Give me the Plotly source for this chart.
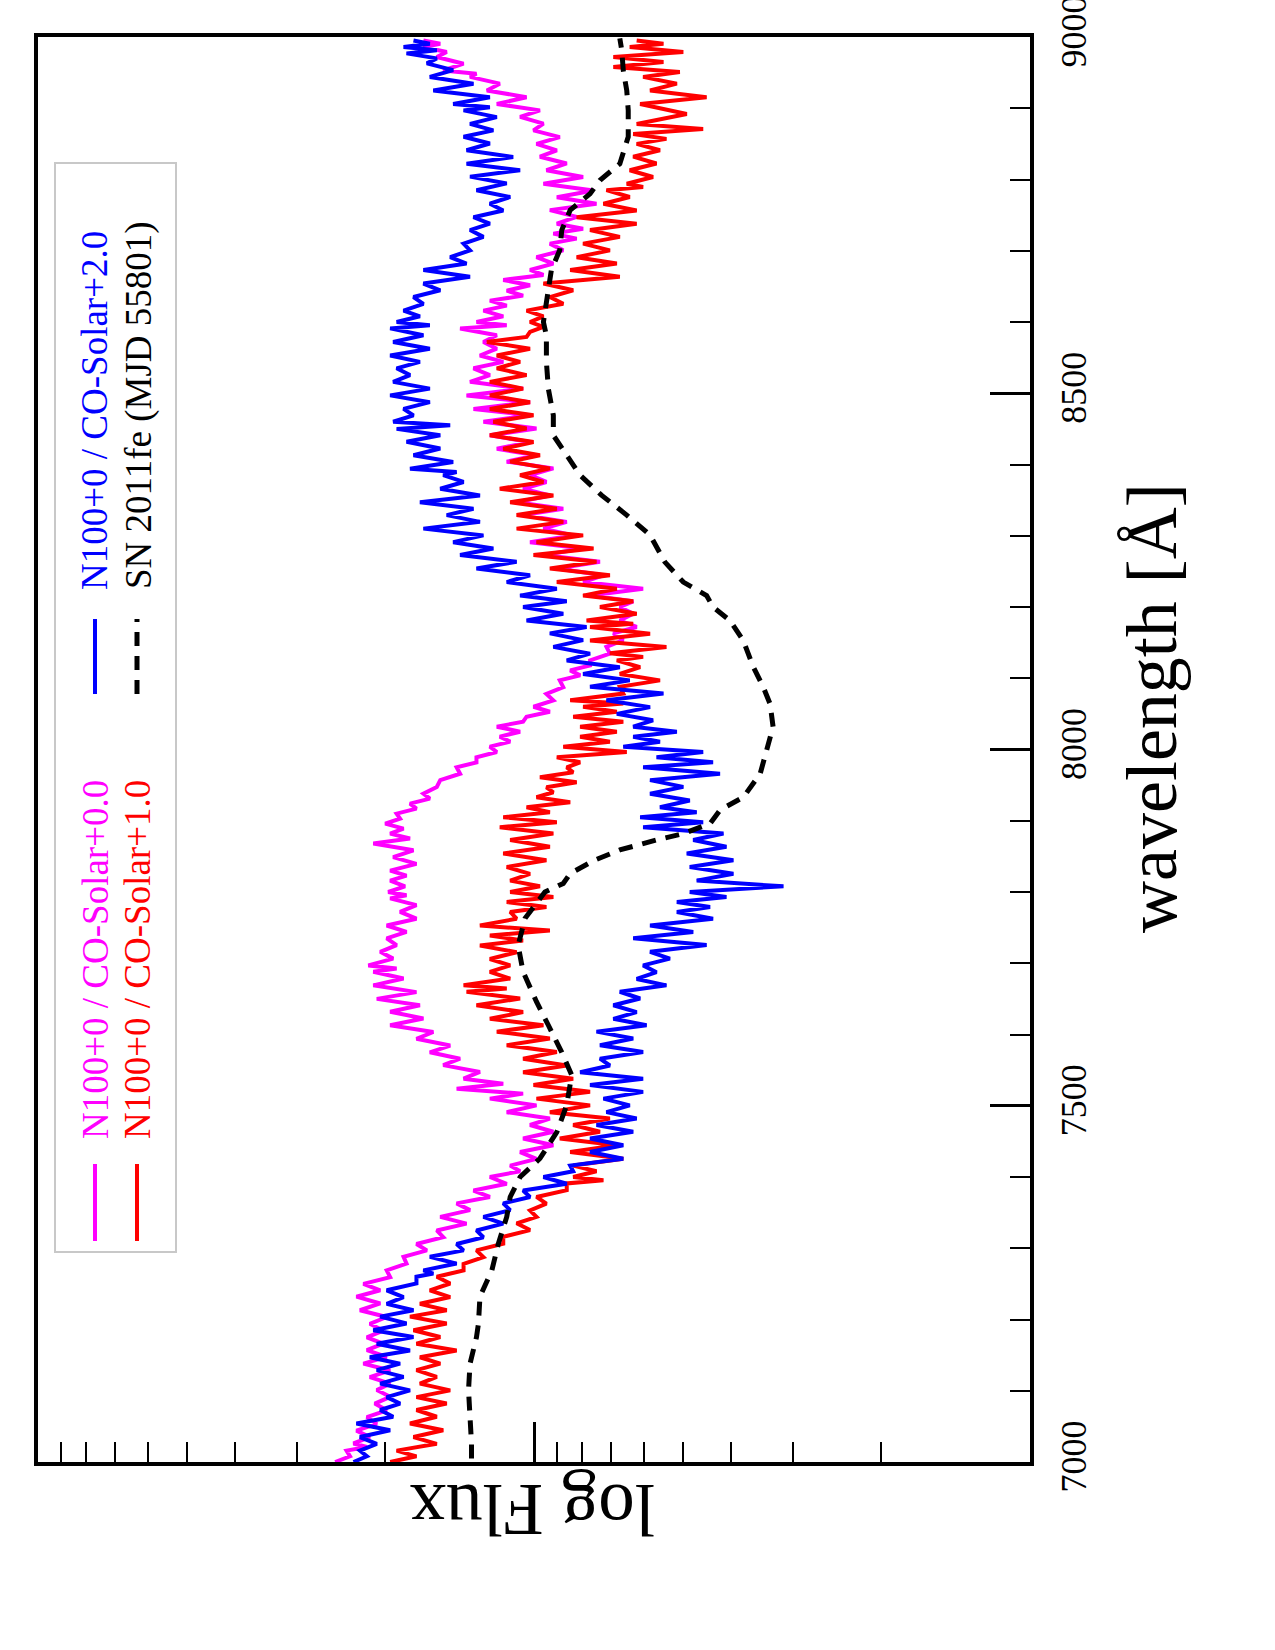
import numpy as np
import plotly.graph_objects as go

# ---------------- data (log flux, arbitrary units; wavelength in Angstrom) -------------
# N100+0 / CO-Solar+0.0 (magenta): wavelength, upper and lower envelope of the noisy spectrum
W_mag = [7000,7016,7026,7044,7063,7082,7101,7119,7138,7157,7175,7194,7213,7232,7250,7269,7288,7306,7325,7344,
         7363,7381,7400,7416,7435,7454,7473,7491,7510,7524,7538,7557,7575,7594,7613,7632,7650,7669,7688,7697,
         7716,7735,7753,7772,7791,7800,7816,7830,7849,7868,7882,7896,7910,7924,7938,7957,7975,7989,8004,8018,
         8032,8046,8060,8078,8097,8111,8125,8144,8163,8181,8200,8216,8235,8254,8273,8291,8310,8329,8347,8366,
         8385,8404,8422,8441,8460,8478,8497,8516,8535,8553,8572,8591,8600,8616,8630,8644,8659,8673,8691,8710,
         8724,8738,8757,8775,8794,8813,8832,8850,8869,8888,8906,8925,8944,8953,8972,8986,8995]
up_mag = [.401,.378,.364,.358,.337,.321,.317,.331,.344,.337,.337,.331,.351,.358,.344,.297,.263,.237,.196,.189,
          .156,.122,.089,.048,.028,.022,.008,.055,.089,.156,.142,.183,.210,.237,.290,.290,.317,.324,.324,.334,
          .310,.297,.297,.270,.290,.294,.290,.290,.284,.324,.290,.300,.277,.250,.223,.189,.156,.116,.089,.069,
          .075,.015,.001,-.025,-.052,-.073,-.113,-.146,-.160,-.173,-.173,-.113,-.099,-.046,-.019,.008,-.019,.022,.035,.022,
          .008,.055,.075,.089,.102,.122,.136,.129,.122,.109,.102,.149,.116,.102,.089,.055,.062,.008,-.005,-.032,
          -.039,-.046,-.032,-.046,-.019,-.025,-.012,-.005,.001,.028,.075,.095,.129,.183,.196,.223,.223]
lo_mag = [.371,.337,.331,.317,.297,.290,.290,.290,.297,.304,.304,.297,.310,.310,.290,.257,.216,.183,.136,.129,
          .089,.055,.028,-.005,-.039,-.039,-.032,-.005,.022,.062,.109,.149,.169,.203,.223,.230,.237,.263,.277,.284,
          .277,.257,.237,.237,.257,.260,.257,.237,.243,.250,.263,.270,.237,.210,.196,.149,.116,.075,.048,.028,
          .022,-.032,-.039,-.059,-.093,-.113,-.153,-.180,-.207,-.200,-.200,-.220,-.140,-.133,-.099,-.079,-.066,-.059,-.032,-.025,
          -.039,-.005,.008,-.005,.008,.008,.022,.089,.062,.075,.075,.055,.062,.055,.022,.008,-.019,-.039,-.059,-.086,
          -.099,-.086,-.126,-.120,-.099,-.066,-.046,-.052,-.019,-.012,.015,.069,.116,.142,.176,.189,.196]

# N100+0 / CO-Solar+1.0 (red)
W_red = [7000,7016,7035,7054,7073,7091,7110,7129,7147,7166,7185,7204,7222,7241,7260,7278,7297,7316,7335,7353,
         7372,7391,7400,7416,7435,7454,7473,7491,7510,7529,7547,7566,7585,7604,7622,7641,7660,7669,7688,7706,
         7725,7739,7753,7772,7786,7800,7816,7835,7854,7873,7891,7905,7919,7933,7947,7961,7975,7989,8004,8018,
         8032,8046,8060,8069,8088,8106,8125,8135,8153,8172,8181,8200,8216,8235,8254,8273,8291,8310,8329,8347,
         8366,8385,8404,8422,8441,8460,8478,8497,8516,8535,8553,8572,8586,8600,8616,8635,8654,8673,8691,8710,
         8729,8747,8766,8785,8794,8813,8832,8850,8864,8878,8906,8925,8944,8958,8972,8986,8995]
up_red = [.290,.277,.243,.250,.237,.237,.230,.237,.230,.237,.243,.250,.230,.210,.196,.142,.116,.062,.035,.008,
          -.005,-.066,-.079,-.079,-.073,-.052,-.079,-.032,-.005,.001,.022,.022,.055,.075,.089,.116,.136,.142,.089,.089,
          .109,.089,.109,.048,.055,.048,.048,.055,.062,.048,.069,.062,.015,-.005,-.025,-.012,-.066,-.046,-.059,-.093,
          -.093,-.079,-.099,-.073,-.173,-.173,-.167,-.153,-.113,-.113,-.106,-.133,-.099,-.046,-.032,.001,-.005,.035,.035,.048,
          .069,.028,.048,.062,.089,.082,.089,.089,.089,.075,.075,.095,.008,.008,.015,-.032,-.019,-.073,-.086,-.099,
          -.113,-.086,-.140,-.146,-.187,-.193,-.200,-.207,-.200,-.207,-.214,-.234,-.220,-.160,-.160,-.193,-.207]
lo_red = [.237,.196,.183,.196,.176,.169,.196,.189,.156,.189,.176,.176,.169,.169,.142,.102,.062,.008,-.005,-.025,
          -.066,-.140,-.126,-.180,-.167,-.133,-.153,-.113,-.113,-.079,-.066,-.046,-.032,-.019,.022,.028,.055,.048,.048,.035,
          .022,-.032,.035,-.025,-.039,-.012,.008,-.025,-.032,-.039,-.046,-.032,-.073,-.039,-.086,-.079,-.093,-.187,-.153,-.167,
          -.180,-.167,-.180,-.180,-.254,-.214,-.220,-.267,-.234,-.200,-.207,-.200,-.167,-.153,-.126,-.120,-.099,-.059,-.046,-.039,
          -.019,-.032,-.012,.001,.015,.001,.008,.022,.015,.028,.008,.015,-.019,-.019,-.059,-.079,-.173,-.167,-.153,-.173,
          -.207,-.207,-.193,-.220,-.240,-.247,-.254,-.267,-.341,-.308,-.348,-.288,-.294,-.261,-.301,-.261,-.261]

# N100+0 / CO-Solar+2.0 (blue)
W_blu = [7000,7016,7035,7054,7073,7091,7110,7129,7147,7166,7185,7204,7222,7241,7260,7269,7288,7306,7325,7344,
         7363,7381,7400,7416,7435,7454,7473,7491,7510,7529,7547,7566,7585,7604,7622,7641,7660,7678,7697,7716,
         7735,7753,7772,7786,7800,7816,7835,7854,7873,7891,7905,7919,7938,7957,7975,7989,8004,8018,8032,8050,
         8069,8088,8106,8125,8144,8163,8181,8200,8216,8235,8254,8273,8291,8310,8329,8347,8366,8385,8394,8413,
         8432,8450,8460,8478,8497,8516,8535,8553,8572,8591,8600,8616,8635,8654,8673,8691,8710,8729,8747,8766,
         8785,8804,8822,8841,8860,8878,8897,8906,8925,8944,8963,8977,8986,8995]
up_blu = [.364,.351,.351,.358,.310,.297,.310,.317,.331,.317,.324,.310,.297,.297,.237,.223,.210,.156,.116,.102,
          .062,.022,-.019,-.073,-.113,-.113,-.126,-.146,-.140,-.113,-.093,-.133,-.133,-.126,-.160,-.160,-.173,-.207,-.220,-.234,
          -.200,-.234,-.288,-.288,-.314,-.328,-.314,-.308,-.321,-.220,-.214,-.254,-.234,-.234,-.220,-.247,-.180,-.200,-.200,-.167,
          -.146,-.113,-.099,-.066,-.039,-.032,.015,.022,.028,.055,.116,.149,.163,.223,.176,.230,.189,.183,.250,.243,
          .257,.277,.284,.263,.290,.284,.277,.290,.284,.290,.277,.263,.243,.223,.223,.169,.142,.129,.122,.089,
          .116,.129,.136,.136,.142,.129,.142,.163,.203,.210,.216,.257,.263,.243]
lo_blu = [.337,.317,.290,.284,.270,.250,.263,.270,.250,.243,.257,.243,.263,.237,.203,.156,.142,.102,.062,.048,
          .008,-.066,-.079,-.180,-.180,-.200,-.207,-.193,-.220,-.220,-.153,-.220,-.200,-.227,-.207,-.214,-.267,-.247,-.274,-.348,
          -.321,-.361,-.355,-.388,-.503,-.402,-.402,-.388,-.382,-.341,-.328,-.314,-.301,-.375,-.361,-.341,-.254,-.288,-.240,-.234,
          -.261,-.193,-.173,-.113,-.099,-.106,-.059,-.066,-.046,.008,.035,.082,.102,.109,.122,.109,.142,.156,.163,.189,
          .189,.169,.243,.210,.210,.250,.230,.210,.223,.210,.230,.223,.189,.129,.136,.129,.102,.089,.062,.048,
          .055,.028,.042,.089,.082,.075,.089,.089,.122,.163,.196,.196,.210,.223]

# SN 2011fe (MJD 55801), observed spectrum (black dashed)
W_obs = [7005,7026,7063,7101,7138,7175,7194,7232,7269,7306,7344,7372,7400,7426,7463,7501,7543,7575,7613,7646,
         7688,7725,7763,7800,7812,7826,7844,7859,7873,7882,7896,7915,7933,7966,7999,8032,8064,8088,8116,8153,
         8181,8200,8216,8235,8263,8301,8329,8357,8385,8413,8441,8469,8506,8544,8581,8600,8626,8644,8673,8701,
         8729,8757,8780,8799,8822,8860,8897,8925,8953,8981,8998]
F_obs = [.126,.126,.129,.132,.129,.116,.112,.109,.085,.072,.055,.048,.028,-.012,-.046,-.066,-.076,-.056,-.029,-.005,
         .022,.032,.018,-.022,-.059,-.073,-.120,-.173,-.247,-.301,-.355,-.375,-.422,-.456,-.469,-.482,-.476,-.462,-.442,-.422,
         -.395,-.361,-.348,-.301,-.264,-.234,-.187,-.136,-.093,-.066,-.039,-.039,-.029,-.025,-.025,-.019,-.025,-.029,-.035,-.052,
         -.056,-.073,-.113,-.133,-.173,-.190,-.190,-.187,-.180,-.177,-.173]

labels = ["N100+0 / CO-Solar+0.0", "N100+0 / CO-Solar+1.0", "N100+0 / CO-Solar+2.0", "SN 2011fe (MJD 55801)"]
colors = ["#ff00ff", "#ff0000", "#0000ff", "#000000"]

wl_ticks = [7000, 7500, 8000, 8500, 9000]
flux_major = [1.0]
flux_minor = [0.2, 0.3, 0.4, 0.5, 0.6, 0.7, 0.8, 0.9, 2, 3, 4, 5, 6, 7, 8, 9]

# ---------------- figure -------------
W, H = 1275, 1650
L, R, T, B = 38, 1030, 37, 1462
FONT = "Liberation Serif"


def px(x):
    return (x - L) / (R - L)


def py(y):
    return (B - y) / (B - T)


def jagged(w, up, lo):
    xs, ys = [], []
    n = len(w)
    for i in range(n):
        xs.append(up[i]); ys.append(w[i])
        if i < n - 1:
            xs.append(lo[i]); ys.append(0.5 * (w[i] + w[i + 1]))
    return xs, ys


fig = go.Figure()
for (w, up, lo), c, lab in zip([(W_mag, up_mag, lo_mag), (W_red, up_red, lo_red), (W_blu, up_blu, lo_blu)],
                               colors[:3], labels[:3]):
    xs, ys = jagged(w, up, lo)
    fig.add_trace(go.Scatter(x=xs, y=ys, mode="lines", name=lab,
                             line=dict(color=c, width=4)))
fig.add_trace(go.Scatter(x=F_obs, y=W_obs, mode="lines", name=labels[3],
                         line=dict(color="black", width=5, dash="14px,10px")))

fig.update_layout(
    width=W, height=H,
    margin=dict(l=L, r=W - R, t=T, b=H - B, autoexpand=False),
    plot_bgcolor="white", paper_bgcolor="white",
    showlegend=False,
    font=dict(family=FONT, color="black"),
)

fig.update_xaxes(
    range=[1, -1], showgrid=False, zeroline=False, automargin=False,
    showline=True, linecolor="black", linewidth=3.5, mirror=True,
    ticks="inside", tickmode="array", tickvals=list(np.log10(flux_major)),
    ticklen=40, tickwidth=3, tickcolor="black", showticklabels=False,
    minor=dict(ticks="inside", tickmode="array", tickvals=list(np.log10(flux_minor)),
               ticklen=20, tickwidth=2, tickcolor="black", showgrid=False),
)

fig.update_yaxes(
    range=[7000, 9000], side="right", showgrid=False, zeroline=False, automargin=False,
    showline=True, linecolor="black", linewidth=3.5, mirror=True,
    ticks="inside", tickmode="array", tickvals=wl_ticks, ticktext=[str(t) for t in wl_ticks],
    ticklen=40, tickwidth=3, tickcolor="black",
    tickangle=-90, tickfont=dict(family=FONT, size=36, color="black"),
    ticklabelstandoff=9, ticklabeloverflow="allow",
    minor=dict(ticks="inside", dtick=100, tick0=7000, ticklen=20, tickwidth=2,
               tickcolor="black", showgrid=False),
)

ann = [
    dict(text="wavelength [Å]", x=px(1152), y=py(708), textangle=-90, font=dict(size=72)),
    dict(text="log Flux", x=px(533), y=py(1510), textangle=180, font=dict(size=73)),
    dict(text=labels[0], x=px(95), y=py(960), textangle=-90, font=dict(size=37, color=colors[0])),
    dict(text=labels[1], x=px(137), y=py(960), textangle=-90, font=dict(size=37, color=colors[1])),
    dict(text=labels[2], x=px(95), y=py(411), textangle=-90, font=dict(size=37, color=colors[2])),
    dict(text=labels[3], x=px(139), y=py(405), textangle=-90, font=dict(size=37, color=colors[3])),
]
for a in ann:
    a.update(xref="paper", yref="paper", showarrow=False, xanchor="center", yanchor="middle")
    a["font"].setdefault("family", FONT)
    a["font"].setdefault("color", "black")
fig.update_layout(annotations=ann)

shapes = [
    dict(type="rect", x0=px(55), x1=px(176), y0=py(1252), y1=py(163),
         line=dict(color="#c8c8c8", width=2), fillcolor="white", layer="below"),
    dict(type="line", x0=px(95), x1=px(95), y0=py(1241), y1=py(1164), line=dict(color=colors[0], width=4)),
    dict(type="line", x0=px(137), x1=px(137), y0=py(1241), y1=py(1164), line=dict(color=colors[1], width=4)),
    dict(type="line", x0=px(95), x1=px(95), y0=py(694), y1=py(619), line=dict(color=colors[2], width=4)),
    dict(type="line", x0=px(137), x1=px(137), y0=py(694), y1=py(619),
         line=dict(color=colors[3], width=5, dash="14px,10px")),
]
for s in shapes:
    s.update(xref="paper", yref="paper")
fig.update_layout(shapes=shapes)

fig.write_html("out.html")
